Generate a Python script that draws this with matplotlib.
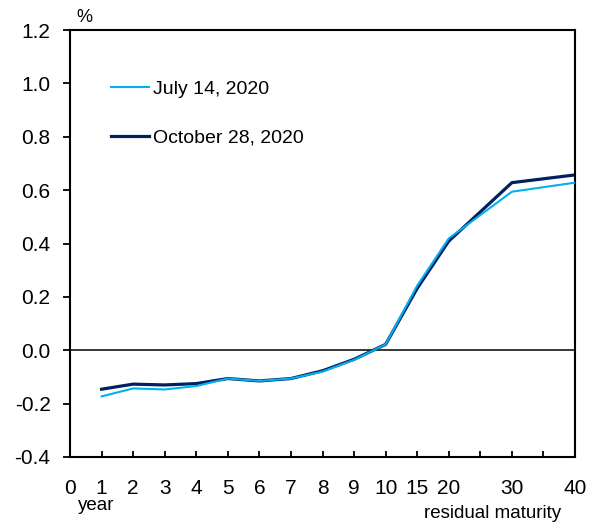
import numpy as np
import matplotlib
matplotlib.use("Agg")
import matplotlib.pyplot as plt
from matplotlib.ticker import FixedLocator, FixedFormatter

plt.rcParams['font.family'] = ['Liberation Sans', 'DejaVu Sans']

# Residual maturity (years) and yields (%)
maturity = [1, 2, 3, 4, 5, 6, 7, 8, 9, 10, 15, 20, 30, 40]
jul_14 = [-0.173, -0.143, -0.147, -0.134, -0.106, -0.115, -0.106, -0.080, -0.036, 0.022,
          0.242, 0.419, 0.594, 0.628]
oct_28 = [-0.146, -0.127, -0.130, -0.125, -0.106, -0.115, -0.106, -0.077, -0.034, 0.022,
          0.232, 0.409, 0.628, 0.657]

tick_years = [0, 1, 2, 3, 4, 5, 6, 7, 8, 9, 10, 15, 20, 25, 30, 35, 40]
tick_labels = ['0', '1', '2', '3', '4', '5', '6', '7', '8', '9', '10', '15', '20', '', '30', '', '40']
y_ticks = [-0.4, -0.2, 0.0, 0.2, 0.4, 0.6, 0.8, 1.0, 1.2]

series_labels = ['July 14, 2020', 'October 28, 2020']
colors = ['#00B0F0', '#002060']

# Piecewise-linear maturity axis: 1-year steps up to 10, then 5-year steps
knots_in = [0, 10, 40]
knots_out = [0, 10, 16]


def forward(x):
    return np.interp(x, knots_in, knots_out)


def inverse(p):
    return np.interp(p, knots_out, knots_in)


fig = plt.figure(figsize=(5.9, 5.22), dpi=100)
ax = fig.add_axes([70 / 590, 1 - 457 / 522, 505 / 590, 427 / 522])
ax.set_xscale('function', functions=(forward, inverse))

ax.axhline(0, color='black', lw=1.1, zorder=1)
ax.plot(maturity, jul_14, color=colors[0], lw=1.5, label=series_labels[0], zorder=3)
ax.plot(maturity, oct_28, color=colors[1], lw=2.3, label=series_labels[1], zorder=2)

ax.set_xlim(0, 40)
ax.set_ylim(-0.4, 1.2)
ax.xaxis.set_major_locator(FixedLocator(tick_years))
ax.xaxis.set_major_formatter(FixedFormatter(tick_labels))
ax.xaxis.set_minor_locator(FixedLocator([]))
ax.set_yticks(y_ticks)
ax.set_yticklabels([f'{v:.1f}' for v in y_ticks])

ax.tick_params(axis='x', direction='in', length=4.5, width=1.3, labelsize=15, pad=16)
ax.tick_params(axis='y', direction='out', length=5, width=1.3, labelsize=15, pad=9)
for s in ax.spines.values():
    s.set_linewidth(1.5)

handles, labels = ax.get_legend_handles_labels()
leg = ax.legend(handles, labels, loc='upper left', bbox_to_anchor=(41 / 505, 1 - 50 / 427),
                frameon=False, fontsize=14, handlelength=1.95, handletextpad=0.2,
                labelspacing=1.6, borderaxespad=0, borderpad=0)

fig.text(76 / 590, 1 - 17 / 522, '%', fontsize=13, ha='left', va='center')
fig.text(96 / 590, 1 - 505 / 522, 'year', fontsize=13.5, ha='center', va='center')
fig.text(493 / 590, 1 - 513 / 522, 'residual maturity', fontsize=13.5, ha='center', va='center')

fig.savefig('out.png', dpi=100)
